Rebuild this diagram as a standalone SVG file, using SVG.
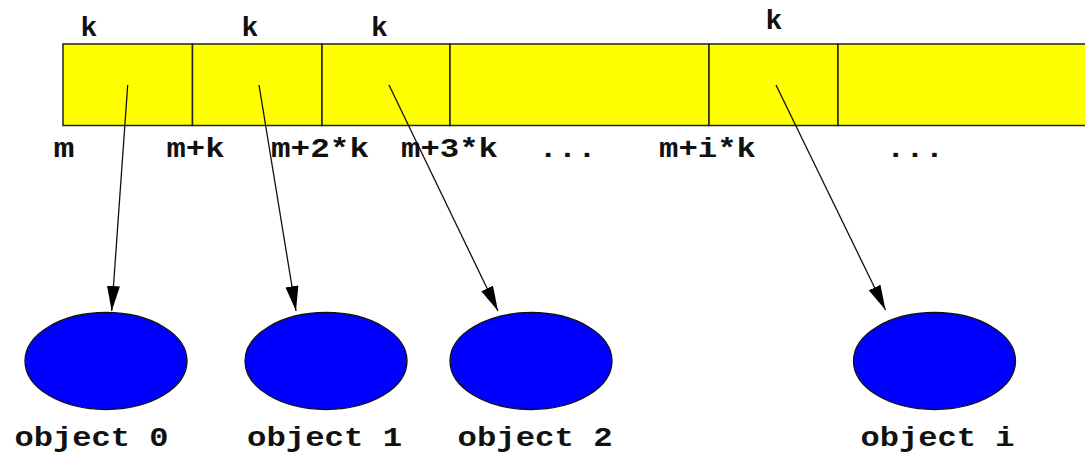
<svg xmlns="http://www.w3.org/2000/svg" width="1085" height="453" viewBox="0 0 1085 453">
<style>
.cell{fill:#ffff00;stroke:#222;stroke-width:1.5}
.obj{fill:#0000ff;stroke:#111;stroke-width:1.3}
.lbl{font-family:"Liberation Mono","DejaVu Sans Mono",monospace;font-weight:bold;font-size:28px;fill:#111;text-anchor:middle}
.conn{stroke:#111;stroke-width:1.3;fill:none;marker-end:url(#ah)}
</style>
<defs>
<marker id="ah" markerUnits="userSpaceOnUse" markerWidth="26" markerHeight="14" refX="25" refY="6.5" orient="auto">
<path d="M0,0 L25,6.5 L0,13 z" fill="#000"/>
</marker>
</defs>
<rect width="1085" height="453" fill="#fff"/>
<g id="array">
<g id="cell0"><rect class="cell" x="63" y="44" width="129.5" height="81.5"/></g>
<g id="cell1"><rect class="cell" x="192.5" y="44" width="129.5" height="81.5"/></g>
<g id="cell2"><rect class="cell" x="322" y="44" width="128" height="81.5"/></g>
<g id="cell3"><rect class="cell" x="450" y="44" width="259" height="81.5"/></g>
<g id="celli"><rect class="cell" x="709" y="44" width="129" height="81.5"/></g>
<g id="cellrest"><rect class="cell" x="838" y="44" width="260" height="81.5"/></g>
</g>
<g id="top-labels">
<text class="lbl" x="89" y="36">k</text>
<text class="lbl" x="250" y="36">k</text>
<text class="lbl" x="379.5" y="36">k</text>
<text class="lbl" x="774" y="29">k</text>
</g>
<g id="offset-labels">
<text class="lbl" x="64" y="157" textLength="21" lengthAdjust="spacingAndGlyphs">m</text>
<text class="lbl" x="195.5" y="157" textLength="58" lengthAdjust="spacingAndGlyphs">m+k</text>
<text class="lbl" x="320" y="157" textLength="98" lengthAdjust="spacingAndGlyphs">m+2*k</text>
<text class="lbl" x="449.5" y="157" textLength="97" lengthAdjust="spacingAndGlyphs">m+3*k</text>
<text class="lbl" x="567.5" y="157" textLength="58" lengthAdjust="spacingAndGlyphs">...</text>
<text class="lbl" x="707.5" y="157" textLength="97" lengthAdjust="spacingAndGlyphs">m+i*k</text>
<text class="lbl" x="915" y="157" textLength="58" lengthAdjust="spacingAndGlyphs">...</text>
</g>
<g id="connectors">
<line class="conn" x1="127.7" y1="85" x2="111.7" y2="311"/>
<line class="conn" x1="259" y1="85" x2="296" y2="311"/>
<line class="conn" x1="389" y1="85" x2="498" y2="311"/>
<line class="conn" x1="776" y1="85" x2="885.5" y2="310"/>
</g>
<g id="object0">
<ellipse class="obj" cx="106" cy="361" rx="81" ry="48.5"/>
<text class="lbl" x="91.5" y="446" textLength="154" lengthAdjust="spacingAndGlyphs">object 0</text>
</g>
<g id="object1">
<ellipse class="obj" cx="326" cy="361" rx="81" ry="48.5"/>
<text class="lbl" x="324.5" y="446" textLength="155" lengthAdjust="spacingAndGlyphs">object 1</text>
</g>
<g id="object2">
<ellipse class="obj" cx="531" cy="361" rx="81" ry="48.5"/>
<text class="lbl" x="535" y="446" textLength="155" lengthAdjust="spacingAndGlyphs">object 2</text>
</g>
<g id="objecti">
<ellipse class="obj" cx="934.5" cy="361" rx="81" ry="48.5"/>
<text class="lbl" x="937.5" y="446" textLength="154" lengthAdjust="spacingAndGlyphs">object i</text>
</g>
</svg>
